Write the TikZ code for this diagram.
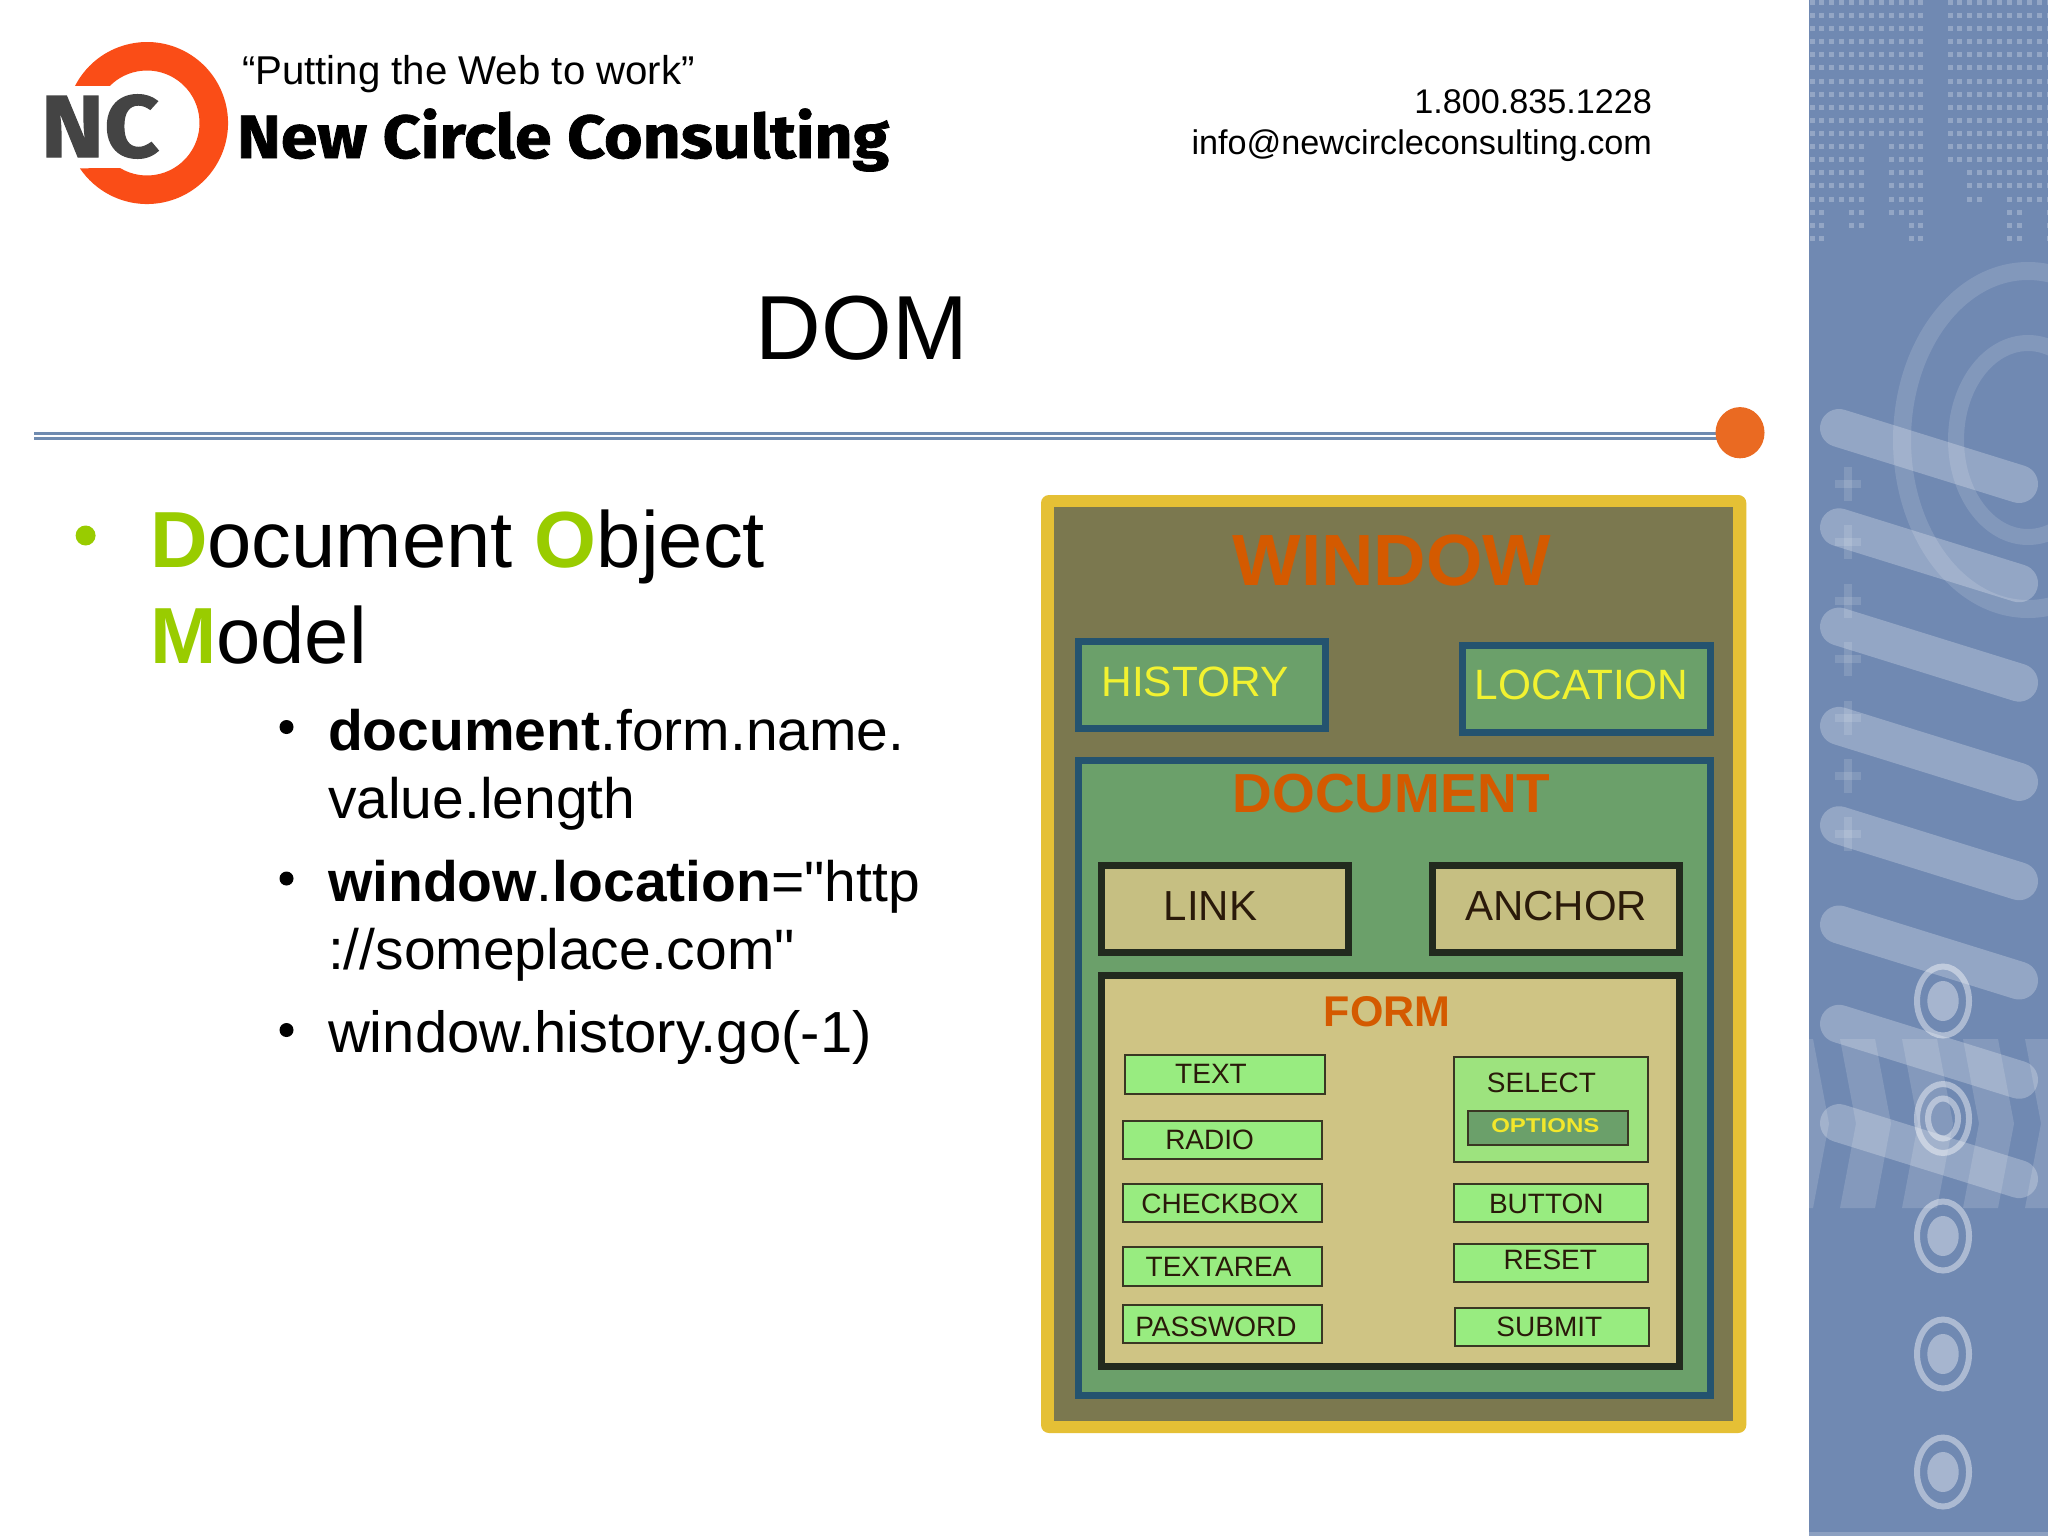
\documentclass[tikz,border=0pt]{standalone}
\usepackage{fontspec}
\setmainfont{Liberation Sans}[Ligatures=TeXOff]
\newfontfamily\logofont{Fira Sans}[BoldFeatures={FakeBold=1.2}]
\newcommand{\ptfont}[1]{\fontsize{#1}{#1}\selectfont}
\definecolor{panelblue}{HTML}{7089B2}
\definecolor{rulecol}{HTML}{6F8BB0}
\definecolor{dotorange}{HTML}{EA6A22}
\definecolor{ringorange}{HTML}{FA4D17}
\definecolor{logogrey}{HTML}{444444}
\definecolor{accentgreen}{HTML}{99CC00}
\definecolor{frameyellow}{HTML}{E5C035}
\definecolor{windowolive}{HTML}{7B784F}
\definecolor{docgreen}{HTML}{6BA06A}
\definecolor{docnavy}{HTML}{24536F}
\definecolor{linkkhaki}{HTML}{C6BF82}
\definecolor{formkhaki}{HTML}{CFC484}
\definecolor{darkedge}{HTML}{222A1E}
\definecolor{fieldgreen}{HTML}{98EC80}
\definecolor{selectgreen}{HTML}{9DE37E}
\definecolor{headorange}{HTML}{D45A00}
\definecolor{brightyellow}{HTML}{F2F230}
\definecolor{fieldtextcol}{HTML}{2A1A0A}
\tikzset{
  plain/.style={inner sep=0pt,outer sep=0pt},
  bodytext/.style={plain,anchor=base west,font=\ptfont{39.8}},
  subtext/.style={plain,anchor=base west,font=\ptfont{28.5}},
  headtext/.style={plain,text=headorange,font=\bfseries\ptfont{#1}},
  bigbox/.style={line width=3.5pt,draw=docnavy,fill=docgreen},
  linkbox/.style={line width=3.5pt,draw=darkedge,fill=linkkhaki},
  fieldbox/.style={line width=1pt,draw=darkedge!85!brown,fill=fieldgreen},
  fieldtext/.style={plain,text=fieldtextcol,font=\ptfont{14}},
  barline/.style={line width=19pt,line cap=round,white,opacity=.25},
  crossline/.style={line width=4pt,white,opacity=.13},
}
\begin{document}
\begin{tikzpicture}[x=0.5pt,y=-0.5pt]
    \useasboundingbox (0,0) rectangle (2048,1536);
    \fill[white] (0,0) rectangle (2048,1536);
    % right panel
    \fill[panelblue] (1809,0) rectangle (2048,1536);
    \begin{scope}
        \clip (1809,0) rectangle (2048,1536);
        \foreach \cola/\last in {0/18,1/18,2/15,3/15,4/17,5/17,6/10,7/10,8/16,9/16,10/18,11/18}
            \foreach \row in {0,...,\last}
                \fill[white,opacity=.25] ({1812+9.9*\cola-2.5},{2.5+13.1*\row-2.5}) rectangle +(5,5);
        \foreach \cola/\last in {0/12,1/12,2/15,3/15,4/14,5/14,6/18,7/18,8/15,9/15,10/18}
            \foreach \row in {0,...,\last}
                \fill[white,opacity=.25] ({1950+9.9*\cola-2.5},{2.5+13.1*\row-2.5}) rectangle +(5,5);
        \draw[white,opacity=.13,line width=9pt] (2028,440) ellipse [x radius=126,y radius=169];
        \draw[white,opacity=.13,line width=8pt] (2028,440) ellipse [x radius=72,y radius=97];
        \foreach \xa in {1778,1840,1902,1963,2025}
            \fill[white,opacity=.14] (\xa,1039) -- ++(35,0) -- ++(16,84.5) -- ++(-16,84.5) -- ++(-35,0) -- ++(16,-84.5) -- cycle;
        \foreach \i in {0,...,7}
            \draw[barline] (1839,{428+99.3*\i}) -- (2019,{484+99.3*\i});
        \foreach \i in {0,...,6} {
            \draw[crossline] (1835,{484+58.4*\i}) -- (1861,{484+58.4*\i});
            \draw[crossline] (1848,{467+58.4*\i}) -- (1848,{501+58.4*\i});
        }
        \foreach \ya in {1001,1236,1354,1472} {
            \draw[white,opacity=.42,line width=3pt] (1943,\ya) ellipse [x radius=26,y radius=34.5];
            \fill[white,opacity=.38] (1943,\ya) ellipse [x radius=15.7,y radius=20];
        }
        \draw[white,opacity=.42,line width=3pt] (1943,1118.5) ellipse [x radius=26,y radius=34.5];
        \draw[white,opacity=.42,line width=3pt] (1943,1118.5) ellipse [x radius=15,y radius=20];
    \end{scope}
    \fill[white,opacity=.2] (1809,1532) rectangle (2048,1536);
    % logo
    \fill[ringorange] (75,86) arc [start angle=-152.8,end angle=146,radius=81] -- (120,168)
        arc [start angle=121,end angle=-135,radius=52.5] -- cycle;
    \node[plain,anchor=base,text=logogrey,font=\logofont\bfseries\ptfont{44}] (logonc) at (100,157) {\scalebox{1.087}[1]{NC}};
    \node[plain,anchor=base west,font=\logofont\bfseries\ptfont{30.5}] (logoname) at (237,158) {\scalebox{1.085}[1]{New Circle Consulting}};
    \node[plain,anchor=base west,font=\ptfont{20.1}] (tagline) at (242,85) {“Putting the Web to work”};
    \node[plain,anchor=base east,font=\ptfont{17.1}] (phone) at (1652,113) {1.800.835.1228};
    \node[plain,anchor=base east,font=\ptfont{17.1}] (email) at (1652,155) {info@newcircleconsulting.com};
    % title
    \node[plain,font=\ptfont{45.5}] (title) at (862,328) {DOM};
    \draw[rulecol,line width=1.25pt] (34,433.3) -- (1720,433.3);
    \draw[rulecol,line width=1.25pt] (34,438.7) -- (1720,438.7);
    \fill[dotorange] (1740,432.7) ellipse [x radius=24.5,y radius=25.6];
    % bullets
    \fill[accentgreen] (85.6,535.5) ellipse [x radius=10,y radius=10];
    \foreach \ya in {727,878.5,1030}
        \fill[black] (286.5,\ya) circle (7);
    \node[bodytext] (lineone) at (150,567) {\textcolor{accentgreen}{\textbf{D}}ocument \textcolor{accentgreen}{\textbf{O}}bject};
    \node[bodytext] (linetwo) at (150,663) {\textcolor{accentgreen}{\textbf{M}}odel};
    \node[subtext] (suba) at (328,750) {\textbf{document}.form.name.};
    \node[subtext] (subb) at (328,818) {value.length};
    \node[subtext] (subc) at (328,901) {\textbf{window}.\textbf{location}="http};
    \node[subtext] (subd) at (328,969) {://someplace.com"};
    \node[subtext,font=\ptfont{29}] (sube) at (328,1052) {window.history.go(-1)};
    % window frame
    \fill[frameyellow,rounded corners=4pt] (1041,495) rectangle (1746.3,1433);
    \fill[windowolive] (1054,507) rectangle (1733.4,1421);
    \node[headtext=36.3] (window) at (1392,560) {WINDOW};
    \draw[bigbox] (1078,641) rectangle (1325,728);
    \draw[bigbox] (1462,645) rectangle (1710,732);
    \node[plain,text=brightyellow,font=\ptfont{21.2}] (history) at (1195,681.5) {HISTORY};
    \node[plain,text=brightyellow,font=\ptfont{21.2}] (location) at (1581.7,684.5) {LOCATION};
    \draw[bigbox] (1078,760) rectangle (1710,1395);
    \node[headtext=27.5] (document) at (1391.6,793.5) {DOCUMENT};
    \draw[linkbox] (1101,865.5) rectangle (1348,952.5);
    \draw[linkbox] (1432,865.5) rectangle (1679,952.5);
    \node[plain,text=fieldtextcol,font=\ptfont{21}] (link) at (1210.6,906) {LINK};
    \node[plain,text=fieldtextcol,font=\ptfont{21}] (anchor) at (1556.3,906) {ANCHOR};
    % form
    \draw[linkbox,fill=formkhaki] (1101,975.5) rectangle (1679,1366.5);
    \node[headtext=21.5] (form) at (1387,1011.5) {FORM};
    \foreach \xa/\ya/\xb/\yb in {1125/1055/1325/1094, 1122.5/1120.7/1322/1159, 1122.5/1184/1322/1222,
        1122.5/1247/1322/1286, 1122.5/1305/1322/1343, 1454/1184/1648/1222, 1454/1244/1648/1282, 1454.5/1308/1648.5/1346}
        \draw[fieldbox] (\xa,\ya) rectangle (\xb,\yb);
    \draw[fieldbox,fill=selectgreen] (1454,1057) rectangle (1648,1162);
    \draw[fieldbox,fill=docgreen] (1468,1111) rectangle (1628,1145);
    \foreach \nm/\tx/\ty/\lbl in {ftext/1211/1073.5/TEXT, fradio/1209.6/1139.5/RADIO, fcheck/1220/1203.5/CHECKBOX,
        farea/1218.5/1267/TEXTAREA, fpass/1216/1327/PASSWORD, fselect/1541.4/1083/SELECT,
        fbutton/1546.3/1203.5/BUTTON, freset/1550.3/1260/RESET, fsubmit/1549.3/1327/SUBMIT}
        \node[fieldtext] (\nm) at (\tx,\ty) {\lbl};
    \node[plain,text=brightyellow!90!orange,font=\bfseries\ptfont{10}] (foptions) at (1545.3,1126) {\scalebox{1.2}[1]{OPTIONS}};
\end{tikzpicture}
\end{document}
